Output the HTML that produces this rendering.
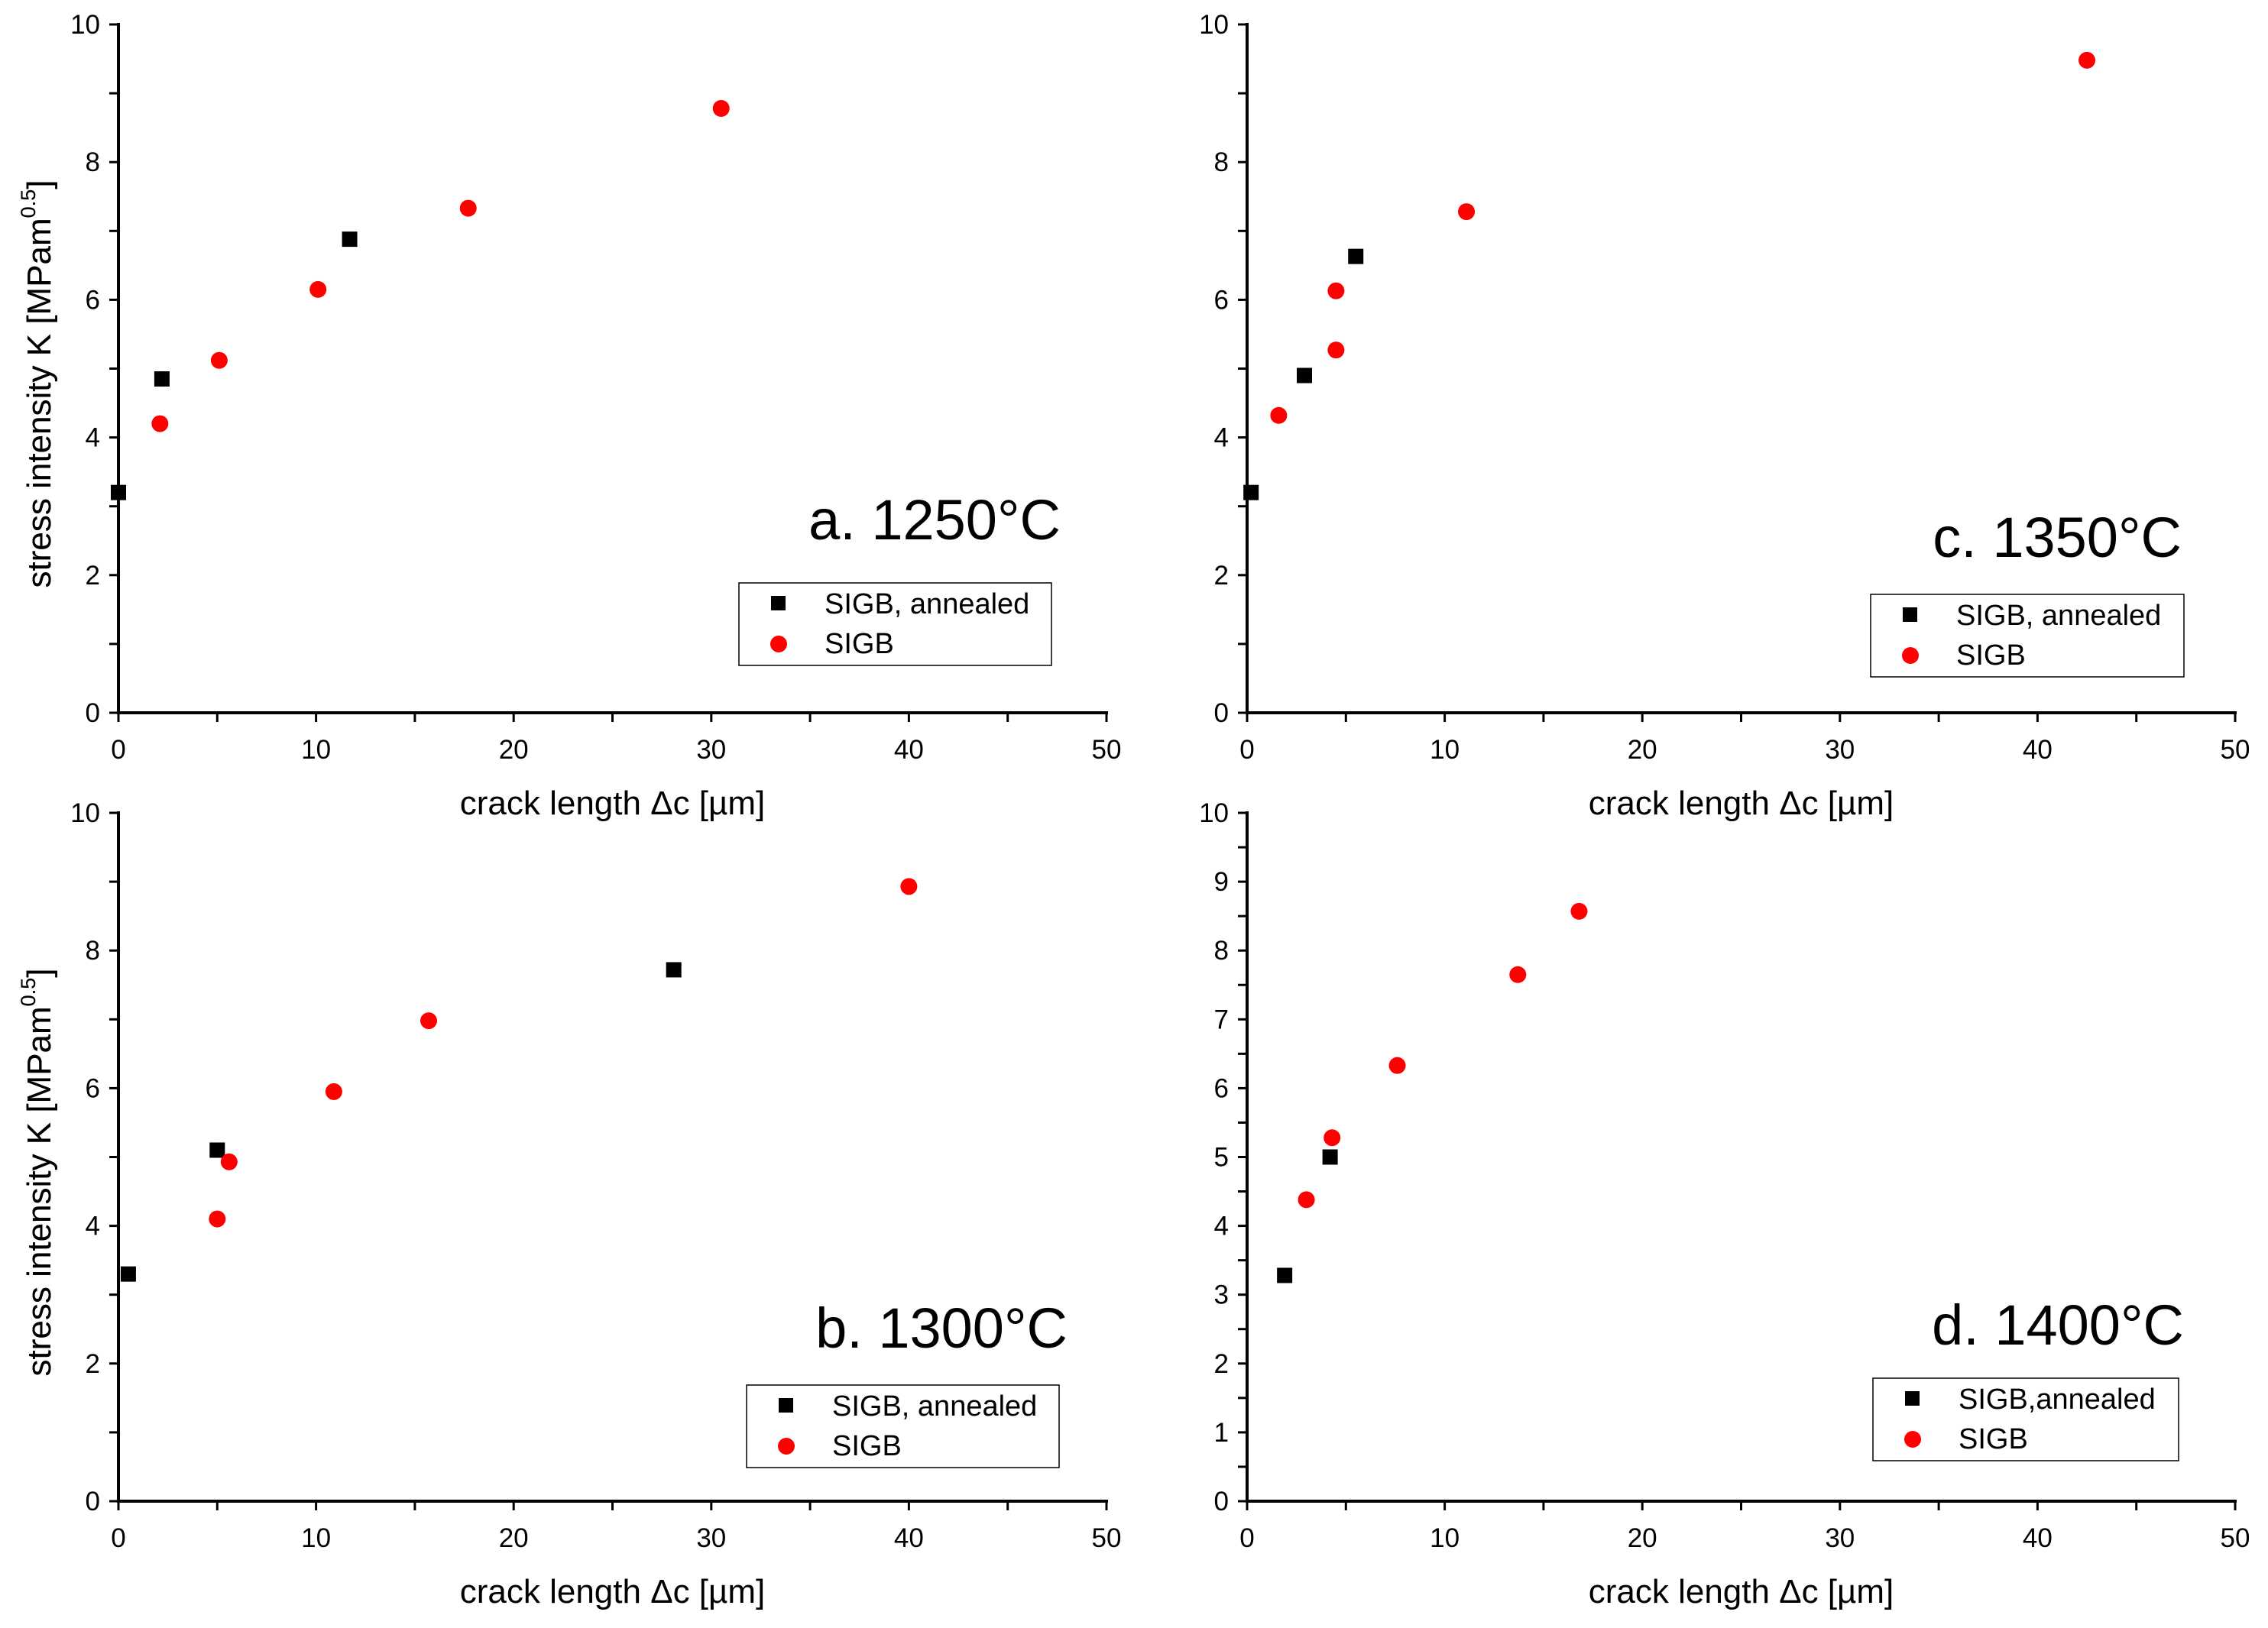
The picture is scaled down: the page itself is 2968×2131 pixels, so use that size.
<!DOCTYPE html>
<html><head><meta charset="utf-8"><style>
html,body{margin:0;padding:0;background:#fff;}
svg{display:block;font-family:"Liberation Sans",Arial,sans-serif;}
</style></head><body>
<svg id="chart" width="2968" height="2131" viewBox="0 0 2968 2131" xmlns="http://www.w3.org/2000/svg"></svg>
<script>
// Panel a data
const aBlackX=[0,2.2,11.7];
const aBlackY=[3.2,4.85,6.88];
const aRedX=[2.1,5.1,10.1,17.7,30.5];
const aRedY=[4.2,5.12,6.15,7.33,8.78];
// Panel c data
const cBlackX=[0.2,2.9,5.5];
const cBlackY=[3.2,4.9,6.63];
const cRedX=[1.6,4.5,4.5,11.1,42.5];
const cRedY=[4.32,5.27,6.13,7.28,9.48];
// Panel b data
const bBlackX=[0.5,5,28.1];
const bBlackY=[3.3,5.1,7.72];
const bRedX=[5,5.6,10.9,15.7,40];
const bRedY=[4.1,4.93,5.95,6.98,8.93];
// Panel d data
const dBlackX=[1.9,4.2];
const dBlackY=[3.28,5.0];
const dRedX=[3,4.3,7.6,13.7,16.8];
const dRedY=[4.38,5.28,6.33,7.65,8.57];
// tick labels
const xTicks=[0,10,20,30,40,50];
const yTicksEven=[0,2,4,6,8,10];
const yTicksAll=[0,1,2,3,4,5,6,7,8,9,10];

const NS="http://www.w3.org/2000/svg";
const svg=document.getElementById('chart');
function mk(tag,attrs,parent,text){const e=document.createElementNS(NS,tag);for(const k in attrs)e.setAttribute(k,attrs[k]);if(text!==undefined)e.textContent=text;(parent||svg).appendChild(e);return e;}

const panels=[
 {id:'a',L:155,R:1448,T:32,B:933,bx:aBlackX,by:aBlackY,rx:aRedX,ry:aRedY,yt:yTicksEven,ym:1,label:'a. 1250°C',lx:1388,ly:706,leg:[967,763,409,108],lt:'SIGB, annealed'},
 {id:'c',L:1632,R:2925,T:32,B:933,bx:cBlackX,by:cBlackY,rx:cRedX,ry:cRedY,yt:yTicksEven,ym:1,label:'c. 1350°C',lx:2855,ly:729,leg:[2448,778,410,108],lt:'SIGB, annealed'},
 {id:'b',L:155,R:1448,T:1064,B:1965,bx:bBlackX,by:bBlackY,rx:bRedX,ry:bRedY,yt:yTicksEven,ym:1,label:'b. 1300°C',lx:1397,ly:1764,leg:[977,1813,409,108],lt:'SIGB, annealed'},
 {id:'d',L:1632,R:2925,T:1064,B:1965,bx:dBlackX,by:dBlackY,rx:dRedX,ry:dRedY,yt:yTicksAll,ym:0.5,label:'d. 1400°C',lx:2858,ly:1760,leg:[2451,1804,400,108],lt:'SIGB,annealed'}
];

panels.forEach(p=>{
 const g=mk('g',{});
 
 
 const xs=v=>p.L+(v-0)/50*(p.R-p.L);
 const ys=v=>p.B-(v-0)/10*(p.B-p.T);
 const ax=mk('line',{x1:p.L,y1:p.B,x2:p.R+2,y2:p.B,stroke:'#000','stroke-width':4},g);
 
 
 const ay=mk('line',{x1:p.L,y1:p.T-2,x2:p.L,y2:p.B+2,stroke:'#000','stroke-width':4},g);
 
 
 for(let v=0;v<=50;v+=5){mk('line',{x1:xs(v),y1:p.B,x2:xs(v),y2:p.B+12,stroke:'#000','stroke-width':3},g);}
 xTicks.forEach(v=>{const t=mk('text',{x:xs(v),y:p.B+60,'font-size':35,'text-anchor':'middle'},g,String(v));
  
  });
 for(let v=0;v<=10.001;v+=p.ym){mk('line',{x1:p.L-12,y1:ys(v),x2:p.L,y2:ys(v),stroke:'#000','stroke-width':3},g);}
 p.yt.forEach(v=>{const t=mk('text',{x:p.L-24,y:ys(v)+12,'font-size':35,'text-anchor':'end'},g,String(v));
  
  });
 const xt=mk('text',{x:(p.L+p.R)/2,y:p.B+133,'font-size':44,'text-anchor':'middle'},g,'crack length Δc [µm]');
 
 
 const cy=(p.T+p.B)/2+20;
 const yt=mk('text',{x:0,y:0,'font-size':44,'text-anchor':'middle',transform:`translate(66,${cy}) rotate(-90)`},g);
 
 
 mk('tspan',{},yt,'stress intensity K [MPam');
 mk('tspan',{'font-size':27,dy:-20},yt,'0.5');
 mk('tspan',{dy:20},yt,']');
 p.bx.forEach((v,i)=>{const r=mk('rect',{x:xs(v)-10,y:ys(p.by[i])-10,width:20,height:20,fill:'#000'},g);
  
  });
 p.rx.forEach((v,i)=>{const c=mk('circle',{cx:xs(v),cy:ys(p.ry[i]),r:11,fill:'#f00'},g);
  
  });
 const lb=mk('text',{x:p.lx,y:p.ly,'font-size':74,'text-anchor':'end'},g,p.label);
 
 
 const [lx,ly,lw,lh]=p.leg;
 const lg=mk('g',{},g);
 
 
 mk('rect',{x:lx,y:ly,width:lw,height:lh,fill:'#fff',stroke:'#000','stroke-width':1.5},lg);
 mk('rect',{x:lx+42,y:ly+17,width:19,height:19,fill:'#000'},lg);
 mk('circle',{cx:lx+52,cy:ly+80,r:11,fill:'#f00'},lg);
 mk('text',{x:lx+112,y:ly+40,'font-size':38},lg,p.lt);
 mk('text',{x:lx+112,y:ly+92,'font-size':38},lg,'SIGB');
});
</script>
</body></html>
